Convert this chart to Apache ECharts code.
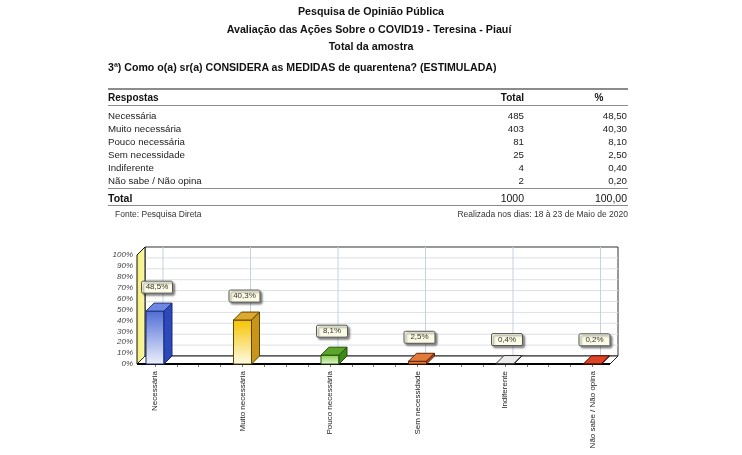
<!DOCTYPE html>
<html>
<head>
<meta charset="utf-8">
<script src="https://cdn.jsdelivr.net/npm/echarts@6/dist/echarts.min.js"></script>
<style>
  html, body { margin: 0; padding: 0; background: #fff; }
  #pagina { position: relative; width: 742px; height: 455px; overflow: hidden;
            font-family: "Liberation Sans", Arial, sans-serif; color: #111; }
  #grafico { position: absolute; left: 0; top: 0; width: 742px; height: 455px; }
  .t { position: absolute; white-space: nowrap; }
  .linha { position: absolute; left: 108px; width: 520px; height: 0; border-top: 1px solid #8c8c8c; }
</style>
</head>
<body>
<div id="pagina">
  <div id="grafico"></div>
</div>
<script>
// dados da pesquisa
var categorias = ["Necessária", "Muito necessária", "Pouco necessária", "Sem necessidade", "Indiferente", "Não sabe / Não opina"];
var totais = [485, 403, 81, 25, 4, 2];
var percentuais = [48.5, 40.3, 8.1, 2.5, 0.4, 0.2];
var totalGeral = 1000;
var percentualGeral = 100;

var titulos = ["Pesquisa de Opinião Pública", "Avaliação das Ações Sobre o COVID19 - Teresina - Piauí", "Total da amostra"];
var pergunta = "3ª) Como o(a) sr(a) CONSIDERA as MEDIDAS de quarentena? (ESTIMULADA)";
var fonte = "Fonte: Pesquisa Direta";
var periodo = "Realizada nos dias: 18 à 23 de Maio de 2020";

// cores das barras: frente (topo, base), tampa, lateral, contorno
var coresBarras = [
  { f1: "#4f6cd6", f2: "#eef1fb", tampa: "#6d88e4", lado: "#2c48bc", borda: "#1a2a70" },
  { f1: "#f6c300", f2: "#fffbe6", tampa: "#dcaa2c", lado: "#c8951c", borda: "#5e4600" },
  { f1: "#86cc48", f2: "#e8f6da", tampa: "#5aa52a", lado: "#3e8a18", borda: "#244f0c" },
  { f1: "#e06424", f2: "#f09050", tampa: "#e27a3c", lado: "#b04a10", borda: "#5a2406" },
  { f1: "#e4e4e4", f2: "#f6f6f6", tampa: "#ececec", lado: "#cfcfcf", borda: "#333333" },
  { f1: "#d63a1c", f2: "#e85a3a", tampa: "#dd4426", lado: "#a82810", borda: "#501008" }
];

var pagina = document.getElementById("pagina");
function texto(str, opts) {
  var d = document.createElement("div");
  d.className = "t";
  d.textContent = str;
  var s = opts.size;
  d.style.fontSize = s + "px";
  d.style.lineHeight = s + "px";
  d.style.top = (opts.y - s / 2 + 1) + "px";
  if (opts.bold) d.style.fontWeight = "bold";
  if (opts.color) d.style.color = opts.color;
  if (opts.center !== undefined) {
    d.style.left = (opts.center - 200) + "px"; d.style.width = "400px"; d.style.textAlign = "center";
  } else if (opts.right !== undefined) {
    d.style.left = (opts.right - 200) + "px"; d.style.width = "200px"; d.style.textAlign = "right";
  } else {
    d.style.left = opts.left + "px";
  }
  pagina.appendChild(d);
}
function linha(y, w) {
  var l = document.createElement("div");
  l.className = "linha";
  l.style.top = y + "px";
  if (w) l.style.borderTopWidth = w + "px";
  pagina.appendChild(l);
}
function fmt(v, casas) { return v.toFixed(casas).replace(".", ","); }

// cabeçalho e tabela
texto(titulos[0], { y: 10, size: 10.7, bold: true, center: 371 });
texto(titulos[1], { y: 28, size: 10.7, bold: true, center: 369 });
texto(titulos[2], { y: 45, size: 10.7, bold: true, center: 371 });
texto(pergunta, { y: 66, size: 10.6, bold: true, left: 108 });

linha(88, 2);
texto("Respostas", { y: 97, size: 10, bold: true, left: 108 });
texto("Total", { y: 97, size: 10, bold: true, right: 524 });
texto("%", { y: 97, size: 10, bold: true, center: 599 });
linha(105);
for (var i = 0; i < categorias.length; i++) {
  var y = 115 + i * 13;
  texto(categorias[i], { y: y, size: 9.7, left: 108, color: "#222" });
  texto(String(totais[i]), { y: y, size: 9.7, right: 524, color: "#222" });
  texto(fmt(percentuais[i], 2), { y: y, size: 9.7, right: 627, color: "#222" });
}
linha(188);
texto("Total", { y: 197, size: 10.5, bold: true, left: 108 });
texto(String(totalGeral), { y: 197, size: 10.5, right: 524 });
texto(fmt(percentualGeral, 2), { y: 197, size: 10.5, right: 627 });
linha(205);
texto(fonte, { y: 213, size: 8.5, left: 115, color: "#333" });
texto(periodo, { y: 213, size: 8.5, right: 628, color: "#333" });

// gráfico 3D
var X_MIN = -0.2057, X_MAX = 5.2;
var D = 8;          // profundidade (px)
var LARG = 0.2057;  // largura da barra em unidades do eixo

var ticksX = [];
for (var k = 0; k <= (categorias.length - 1) * 4; k++) ticksX.push(k / 4);
var posCategorias = categorias.map(function (c, i) { return i; });

function renderFundo(params, api) {
  var a = api.coord([X_MIN, 0]), b = api.coord([X_MIN, 100]);
  var c = api.coord([X_MAX, 0]);
  var filhos = [];
  // parede de fundo
  filhos.push({ type: "rect", shape: { x: b[0] + D, y: b[1] - D, width: c[0] - a[0], height: a[1] - b[1] },
    style: { fill: "#fff", stroke: "#333", lineWidth: 1 } });
  for (var t = 10; t < 100; t += 10) {
    var p = api.coord([X_MIN, t]);
    filhos.push({ type: "line", shape: { x1: p[0] + D, y1: p[1] - D, x2: c[0] + D, y2: p[1] - D },
      style: { stroke: "#dcdfe4", lineWidth: 1 } });
  }
  for (var i = 0; i < categorias.length; i++) {
    var q = api.coord([i, 0]), r = api.coord([i, 100]);
    filhos.push({ type: "line", shape: { x1: q[0] + D, y1: r[1] - D, x2: q[0] + D, y2: q[1] - D },
      style: { stroke: "#c4d2e2", lineWidth: 1 } });
  }
  // parede lateral
  filhos.push({ type: "polygon", shape: { points: [a, b, [b[0] + D, b[1] - D], [a[0] + D, a[1] - D]] },
    style: { fill: new echarts.graphic.LinearGradient(0, 0, 1, 0, [{ offset: 0, color: "#f4ee6a" }, { offset: 1, color: "#fbf8b8" }]),
      stroke: "#111", lineWidth: 1 } });
  // piso
  filhos.push({ type: "polygon", shape: { points: [a, [a[0] + D, a[1] - D], [c[0] + D, c[1] - D], c] },
    style: { fill: "#fff", stroke: "#222", lineWidth: 1 } });
  filhos.push({ type: "line", shape: { x1: a[0], y1: a[1], x2: c[0], y2: c[1] },
    style: { stroke: "#000", lineWidth: 2 } });
  return { type: "group", children: filhos };
}

function renderBarra(params, api) {
  var i = api.value(0), v = api.value(1);
  var topo = api.coord([i, v]), base = api.coord([i, 0]);
  var w = api.size([LARG, 0])[0];
  var x0 = topo[0] - w / 2, x1 = topo[0] + w / 2;
  var y0 = topo[1], y1 = base[1];
  var cor = coresBarras[params.dataIndex];
  var filhos = [];
  filhos.push({ type: "rect", shape: { x: x0, y: y0, width: w, height: y1 - y0 },
    style: { fill: new echarts.graphic.LinearGradient(0, 0, 0, 1, [{ offset: 0, color: cor.f1 }, { offset: 1, color: cor.f2 }]),
      stroke: cor.borda, lineWidth: 1 } });
  filhos.push({ type: "polygon", shape: { points: [[x0, y0], [x0 + D, y0 - D], [x1 + D, y0 - D], [x1, y0]] },
    style: { fill: cor.tampa, stroke: cor.borda, lineWidth: 1 } });
  filhos.push({ type: "polygon", shape: { points: [[x1, y0], [x1 + D, y0 - D], [x1 + D, y1 - D], [x1, y1]] },
    style: { fill: cor.lado, stroke: cor.borda, lineWidth: 1 } });
  // rótulo com caixa
  var cx = topo[0] + 2, cy = y0 - D / 2 - 20;
  filhos.push({ type: "rect", shape: { x: cx - 15.5, y: cy - 6, width: 31, height: 12, r: 1.5 },
    style: { fill: "#fcfce6", stroke: "#555", lineWidth: 1,
      shadowColor: "rgba(0,0,0,0.45)", shadowBlur: 2, shadowOffsetX: 2, shadowOffsetY: 2 } });
  filhos.push({ type: "text", x: cx, y: cy,
    style: { text: fmt(v, 1) + "%", fill: "#333", font: "8px 'Liberation Sans', Arial, sans-serif",
      align: "center", verticalAlign: "middle" } });
  return { type: "group", children: filhos };
}

var grafico = echarts.init(document.getElementById("grafico"), null, { renderer: "canvas" });
var option = {
  animation: false,
  grid: { left: 137, right: 132, top: 255, bottom: 91 },
  xAxis: {
    type: "value", min: X_MIN, max: X_MAX,
    splitLine: { show: false },
    axisLine: { show: false },
    axisTick: { show: true, customValues: ticksX, length: 3, lineStyle: { color: "#777" } },
    axisLabel: {
      customValues: posCategorias, rotate: 90, margin: 7,
      fontSize: 8, color: "#222", fontFamily: "Liberation Sans",
      formatter: function (v) { return categorias[Math.round(v)]; }
    }
  },
  yAxis: {
    type: "value", min: 0, max: 100, interval: 10,
    splitLine: { show: false },
    axisLine: { show: false },
    axisTick: { show: true, length: 3, lineStyle: { color: "#777" } },
    axisLabel: { formatter: "{value}%", fontSize: 8, fontStyle: "italic", color: "#444",
      fontFamily: "Liberation Sans", margin: 4 }
  },
  series: [
    { type: "custom", renderItem: renderFundo, data: [[0, 0]], silent: true, z: 1 },
    { type: "custom", renderItem: renderBarra, z: 3,
      data: percentuais.map(function (p, i) { return [i, p]; }) }
  ]
};
grafico.setOption(option);
</script>
</body>
</html>
